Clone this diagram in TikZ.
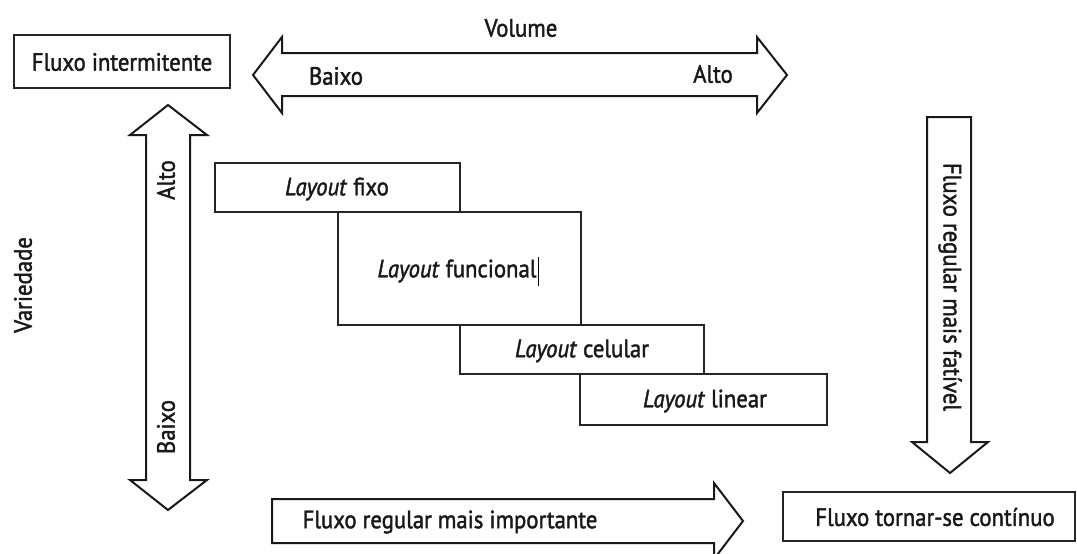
\documentclass[tikz,border=0pt]{standalone}
\usepackage{fontspec}
\setmainfont{PT Sans}[FakeStretch=0.91,FakeBold=1.6]
\begin{document}
\begin{tikzpicture}[x=1pt,y=-1pt,
  lbl/.style={font=\fontsize{25}{29}\selectfont, text=black!90, inner sep=0pt},
  boxx/.style={draw=black!85, line width=1.1pt},
  arr/.style={draw=black!90, line width=2pt, line join=miter, fill=white}]
\useasboundingbox (0,0) rectangle (1077,554);
\begin{scope}
\clip (0,0) rectangle (1077,554);
% top double arrow
\draw[arr] (253,75) -- (282,37) -- (282,53) -- (757,53) -- (757,37) -- (787,75) -- (757,113) -- (757,96) -- (282,96) -- (282,113) -- cycle;
% left vertical double arrow
\draw[arr] (168,105) -- (207,135) -- (190,135) -- (190,480) -- (207,480) -- (168,510) -- (130,480) -- (146,480) -- (146,135) -- (130,135) -- cycle;
% right down arrow
\draw[arr] (927,117) -- (971,117) -- (971,442) -- (988,442) -- (950,473) -- (912,442) -- (927,442) -- cycle;
% bottom right arrow
\draw[arr] (272,499) -- (714,499) -- (714,483) -- (743,521) -- (714,559) -- (714,543) -- (272,543) -- cycle;
\end{scope}
% boxes
\draw[boxx] (14,35) rectangle (230,88);
\draw[boxx] (783,492) rectangle (1075,541);
\draw[boxx] (215,163) rectangle (460,212);
\draw[boxx] (338,212) rectangle (581,325);
\draw[boxx] (460,325) rectangle (704,374);
\draw[boxx] (580,374) rectangle (827,425);
% texts
\node[lbl] (fi) at (122,62) {Fluxo intermitente};
\node[lbl] (vol) at (521,28) {Volume};
\node[lbl] (hb) at (336,76) {Baixo};
\node[lbl] (ha) at (713,74) {Alto};
\node[lbl, rotate=90] (va) at (166,180) {Alto};
\node[lbl, rotate=90] (vb) at (166,427) {Baixo};
\node[lbl, rotate=90] (var) at (23,285) {Variedade};
\node[lbl, rotate=-90] (frf) at (950,287) {Fluxo regular mais fatível};
\node[lbl] (fri) at (450,522) {Fluxo regular mais importante};
\node[lbl] (ftc) at (935,517) {Fluxo tornar-se contínuo};
\node[lbl] (lf) at (337,189) {\textit{Layout} fixo};
\node[lbl] (lfu) at (457,271) {\textit{Layout} funcional};
\node[lbl] (lc) at (582,351) {\textit{Layout} celular};
\node[lbl] (ll) at (705,401) {\textit{Layout} linear};
\draw[line width=1pt] ([xshift=2pt]lfu.east) ++(0,-14) -- ++(0,29);
\end{tikzpicture}
\end{document}
